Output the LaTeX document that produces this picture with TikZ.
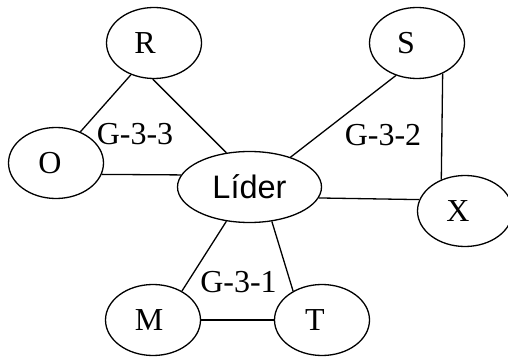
\documentclass[tikz,border=0pt]{standalone}
\usepackage{fontspec}
\setmainfont{Liberation Serif}
\newfontfamily\arialfont{Liberation Sans}
\usetikzlibrary{shapes.geometric,positioning}

\begin{document}
\begin{tikzpicture}[x=1pt,y=1pt,line width=1.3pt,font=\fontsize{32}{38}\selectfont]
  \tikzstyle{member}=[ellipse,draw,inner sep=0pt,minimum width=95pt,minimum height=71pt]
  \tikzstyle{group}=[inner sep=0pt]
  \useasboundingbox (0,0) rectangle (508,356);

  \node[member,label={[xshift=-9pt]center:R}] (r) at (154,313) {};
  \node[member,label={[xshift=-11pt]center:S}] (s) at (417,313) {};
  \node[member,label={[xshift=-6pt]center:O}] (o) at (56,193) {};
  \node[member,minimum width=144pt,font=\arialfont\fontsize{32.5}{38}\selectfont] (lider) at (249.5,169) {Líder};
  \node[member,label={[xshift=-7pt]center:X}] (x) at (465,145) {};
  \node[member,label={[xshift=-4pt]center:M}] (m) at (153,36) {};
  \node[member,label={[xshift=-7pt]center:T}] (t) at (322,36) {};

  \node[group] (g_3) at (135,222) {G-3-3};
  \node[group] (g_2) at (383,221) {G-3-2};
  \node[group] (g_1) at (238.5,74) {G-3-1};

  \path
  (r.234)     edge (o.52)
  (r.268)     edge (lider.124)
  (s.237)     edge (lider.36)
  (s.310)     edge (x.127)
  (o.346)     edge (lider.170)
  (lider.351) edge (x.166)
  (lider.236) edge (m.45)
  (lider.303) edge (t.135)
  (m.east)    edge (t.west);
\end{tikzpicture}
\end{document}
